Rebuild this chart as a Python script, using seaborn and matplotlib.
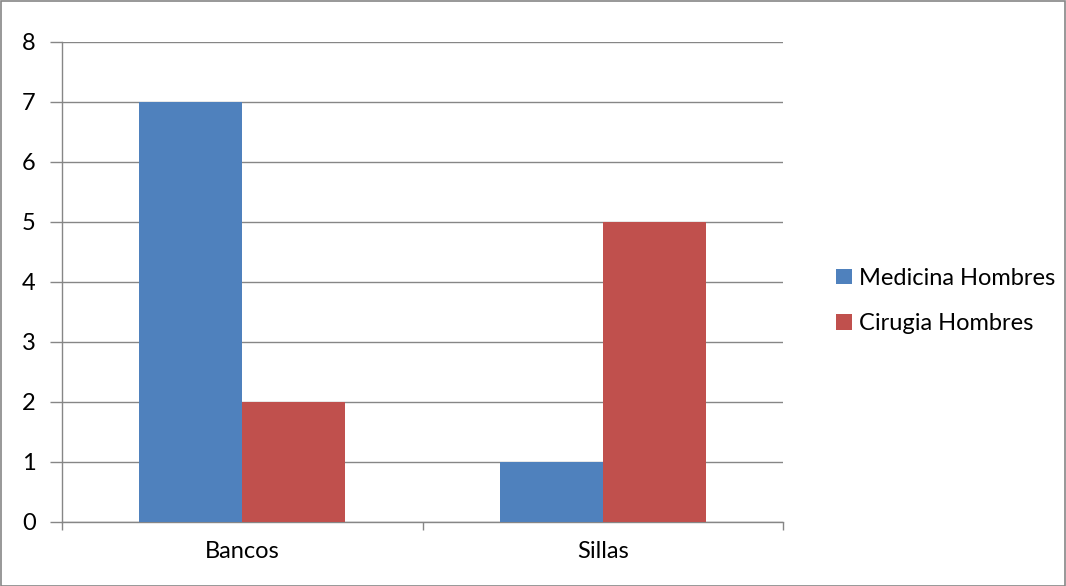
import matplotlib
matplotlib.use("Agg")
import matplotlib.pyplot as plt
from matplotlib.patches import Rectangle, Patch
import seaborn as sns
import pandas as pd

# datos
categorias = ["Bancos", "Sillas"]
medicina_hombres = [7, 1]
cirugia_hombres = [2, 5]
series = ["Medicina Hombres", "Cirugia Hombres"]
colores = ["#4F81BD", "#C0504D"]

df = pd.DataFrame({
    "categoria": categorias * 2,
    "valor": medicina_hombres + cirugia_hombres,
    "serie": [series[0]] * 2 + [series[1]] * 2,
})

sns.set_theme(style="white")
plt.rcParams['font.family'] = ['Lato', 'DejaVu Sans']

fig = plt.figure(figsize=(10.66, 5.86), dpi=100)
ax = fig.add_axes([62 / 1066, 1 - 522 / 586, (783 - 62) / 1066, (522 - 42) / 586])

sns.barplot(data=df, x="categoria", y="valor", hue="serie", palette=colores,
            width=0.572, saturation=1, ax=ax, legend=False, zorder=3,
            linewidth=0, edgecolor="none")

ax.set_ylim(0, 8)
ax.set_xlim(-0.5, 1.5)
ax.set_yticks(range(0, 9))
ax.yaxis.grid(True, color="#868686", linewidth=1, zorder=0)
ax.set_axisbelow(True)
ax.set_xlabel("")
ax.set_ylabel("")

for s in ["top", "right"]:
    ax.spines[s].set_visible(False)
for s in ["left", "bottom"]:
    ax.spines[s].set_color("#868686")
    ax.spines[s].set_linewidth(1)

ax.set_xticks([-0.5, 0.5, 1.5], minor=True)
ax.tick_params(axis="x", which="minor", length=6, color="#868686", width=1, direction="out")
ax.tick_params(axis="x", which="major", length=0, labelsize=17, pad=14, labelcolor="black")
ax.tick_params(axis="y", length=9, color="#868686", width=1, direction="out",
               labelsize=17, pad=10, labelcolor="black")
ax.tick_params(axis="y", left=True)
ax.tick_params(axis="x", bottom=True, which="minor")

handles = [Patch(facecolor=c, edgecolor="none") for c in colores]
fig.legend(handles, series, loc="center left", bbox_to_anchor=(815 / 1066, 1 - 301 / 586),
           frameon=False, fontsize=17, handlelength=0.68, handleheight=0.64,
           handletextpad=0.3, labelspacing=1.03, labelcolor="black")

fig.add_artist(Rectangle((0.5 / 1066, 0.5 / 586), 1 - 1.5 / 1066, 1 - 1.5 / 586,
                         transform=fig.transFigure, fill=False,
                         edgecolor="#868686", linewidth=1.2))

fig.savefig("out.png", dpi=100)
